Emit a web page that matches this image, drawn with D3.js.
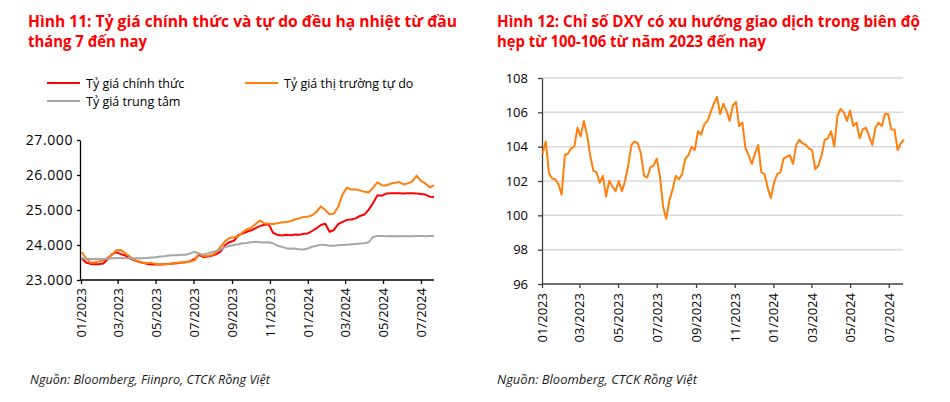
<!DOCTYPE html>
<html>
<head>
<meta charset="utf-8">
<script src="https://cdn.jsdelivr.net/npm/d3@7"></script>
<style>
  body { margin: 0; background: #fff; }
  svg { display: block; }
</style>
</head>
<body>
<div id="chart"></div>
<script>
// Hình 11: weekly points starting 02/01/2023
const fxStart = new Date(2023, 0, 2);
const officialRate = [23620,23500,23460,23450,23450,23470,23600,23740,23790,23740,
  23700,23620,23570,23530,23490,23460,23440,23450,23440,23450,
  23460,23470,23480,23500,23510,23540,23600,23720,23650,23670,
  23700,23740,23820,24000,24080,24120,24280,24330,24380,24420,
  24480,24540,24580,24590,24350,24290,24270,24290,24280,24300,
  24290,24320,24330,24400,24480,24570,24610,24380,24430,24600,
  24660,24720,24730,24760,24830,24870,25010,25200,25420,25410,
  25470,25480,25480,25480,25470,25480,25480,25470,25460,25440,
  25380,25370];
const freeRate = [23800,23620,23500,23510,23530,23560,23640,23720,23850,23860,
  23760,23680,23580,23540,23500,23480,23490,23460,23450,23450,
  23460,23480,23490,23500,23510,23530,23560,23760,23680,23690,
  23720,23790,23960,24110,24200,24220,24250,24360,24450,24490,
  24600,24700,24620,24610,24600,24620,24640,24660,24680,24730,
  24760,24800,24810,24850,24950,25100,25000,24880,24900,25100,
  25450,25640,25580,25590,25560,25520,25500,25640,25790,25710,
  25700,25750,25780,25800,25730,25760,25820,25980,25830,25760,
  25650,25700];
const centralRate = [23620,23610,23600,23600,23600,23600,23610,23620,23630,23630,
  23620,23620,23620,23620,23620,23630,23640,23650,23670,23680,
  23700,23710,23710,23720,23720,23760,23810,23740,23730,23760,
  23800,23830,23880,23940,23970,24000,24020,24050,24060,24080,
  24090,24080,24070,24080,24050,23980,23950,23910,23890,23900,
  23880,23870,23900,23950,23980,24010,24000,23980,23980,23990,
  24000,24010,24020,24030,24040,24050,24080,24230,24260,24260,
  24250,24260,24250,24250,24260,24250,24250,24260,24260,24250,
  24260,24260];

// Hình 12: DXY every 5 days starting 02/01/2023
const dxyStart = new Date(2023, 0, 2);
const dxy = [103.6,104.3,102.45,102.15,102.1,101.8,101.2,103.5,103.6,103.9,
  104.0,105.1,104.6,105.5,104.7,103.5,102.6,102.5,101.9,102.3,
  101.1,102.0,101.7,101.4,102.0,101.4,102.0,102.9,104.1,104.3,
  104.2,103.6,102.3,102.2,102.8,102.9,103.3,102.3,100.5,99.8,
  100.9,101.5,102.3,102.1,102.4,103.3,103.5,104.0,103.8,104.9,
  104.7,105.3,105.5,106.0,106.5,106.9,105.9,106.5,106.1,105.5,
  106.4,106.6,105.2,105.4,103.9,103.5,103.0,103.6,104.1,102.5,
  102.4,101.6,101.0,101.9,102.4,102.5,103.3,103.4,103.5,103.0,
  104.1,104.4,104.2,104.1,103.9,103.8,102.7,102.9,103.5,104.4,
  104.5,104.9,104.0,105.8,106.2,106.0,105.5,106.1,105.2,105.4,
  104.5,105.0,105.1,104.6,104.1,105.1,105.4,105.2,105.9,105.9,
  105.0,105.0,103.8,104.2,104.4];

const monthTicks = ["01/2023","03/2023","05/2023","07/2023","09/2023","11/2023",
  "01/2024","03/2024","05/2024","07/2024"];
const fxTicks = [23000,24000,25000,26000,27000];
const dxyTicks = [96,98,100,102,104,106,108];

const seriesNames = ["Tỷ giá chính thức","Tỷ giá thị trường tự do","Tỷ giá trung tâm"];
const seriesColors = ["#ff0000","#ff7f0e","#a6a6a6"];

const parseMonth = d3.timeParse("%m/%Y");
const fmtMonth = d3.timeFormat("%m/%Y");
const tickDates = monthTicks.map(parseMonth);

const svg = d3.select("#chart").append("svg")
    .attr("width", 950)
    .attr("height", 402)
    .style("font-family", "'Open Sans', sans-serif");

// titles
const titleStyle = s => s.attr("fill", "#ff0000").attr("font-weight", "bold")
    .attr("font-size", "15.5px").attr("lengthAdjust", "spacingAndGlyphs");
svg.append("text").attr("x", 28).attr("y", 27).call(titleStyle).attr("textLength", 429)
    .text("Hình 11: Tỷ giá chính thức và tự do đều hạ nhiệt từ đầu");
svg.append("text").attr("x", 28).attr("y", 47).call(titleStyle).attr("textLength", 119)
    .text("tháng 7 đến nay");
svg.append("text").attr("x", 497).attr("y", 27).call(titleStyle).attr("textLength", 423)
    .text("Hình 12: Chỉ số DXY có xu hướng giao dịch trong biên độ");
svg.append("text").attr("x", 497).attr("y", 47).call(titleStyle).attr("textLength", 269)
    .text("hẹp từ 100-106 từ năm 2023 đến nay");

// ---------- left chart ----------
const fxDates = officialRate.map((d, i) => d3.timeDay.offset(fxStart, 7 * i));
const x1 = d3.scaleTime()
    .domain([new Date(2023, 0, 1), fxDates[fxDates.length - 1]])
    .range([81, 434]);
const y1 = d3.scaleLinear().domain([23000, 27000]).range([280, 140]);

const left = svg.append("g");
const fmtVN = d => d3.format(",")(d).replace(/,/g, ".");

left.append("g")
    .attr("transform", "translate(80,0)")
    .call(d3.axisLeft(y1).tickValues(fxTicks).tickFormat(fmtVN).tickSize(3).tickPadding(4).tickSizeOuter(0))
    .call(g => g.selectAll("text").attr("font-size", "14px").attr("fill", "#000").style("letter-spacing", "0.6px"))
    .call(g => g.selectAll("line, path").attr("stroke", "#000").attr("stroke-width", 1.3))
    .attr("font-family", null);

left.append("g")
    .attr("transform", "translate(0,280)")
    .call(d3.axisBottom(x1).tickValues(tickDates).tickFormat(fmtMonth).tickSize(4).tickSizeOuter(0))
    .call(g => g.select(".domain").attr("d", `M80,0H434`))
    .call(g => g.selectAll("line, path").attr("stroke", "#000").attr("stroke-width", 1.3))
    .call(g => g.selectAll("text")
        .attr("font-size", "13px").attr("fill", "#000")
        .attr("transform", "rotate(-90)")
        .attr("text-anchor", "end")
        .attr("x", -8).attr("y", 0).attr("dy", "0.35em"))
    .attr("font-family", null);

const fxSeries = [officialRate, freeRate, centralRate];
const line1 = d3.line()
    .x((d, i) => x1(fxDates[i]))
    .y(d => y1(d));
left.selectAll(".fx")
    .data(fxSeries)
    .enter().append("path")
    .attr("class", "fx")
    .attr("d", line1)
    .attr("fill", "none")
    .attr("stroke", (d, i) => seriesColors[i])
    .attr("stroke-width", 2)
    .attr("stroke-linejoin", "round");

// legend
const legendPos = [[47, 83], [245, 83], [47, 101]];
const legend = left.selectAll(".leg")
    .data(seriesNames)
    .enter().append("g")
    .attr("transform", (d, i) => `translate(${legendPos[i][0]},${legendPos[i][1]})`);
legend.append("line")
    .attr("x1", 0).attr("x2", 33)
    .attr("stroke", (d, i) => seriesColors[i])
    .attr("stroke-width", 2);
legend.append("text")
    .attr("x", 39).attr("y", 4.5)
    .attr("font-size", "12.5px")
    .text(d => d);

// ---------- right chart ----------
const dxyDates = dxy.map((d, i) => d3.timeDay.offset(dxyStart, 5 * i));
const x2 = d3.scaleTime()
    .domain([new Date(2023, 0, 1), dxyDates[dxyDates.length - 1]])
    .range([542, 904]);
const y2 = d3.scaleLinear().domain([96, 108]).range([284, 78]);

const right = svg.append("g");
right.selectAll(".grid")
    .data(dxyTicks.slice(1))
    .enter().append("line")
    .attr("x1", 542).attr("x2", 903)
    .attr("y1", d => y2(d)).attr("y2", d => y2(d))
    .attr("stroke", "#d9d9d9")
    .attr("stroke-width", 1.5);

right.append("g")
    .attr("transform", "translate(542,0)")
    .call(d3.axisLeft(y2).tickValues(dxyTicks).tickSize(4).tickPadding(10).tickSizeOuter(0))
    .call(g => g.selectAll("text").attr("font-size", "13px").attr("fill", "#000"))
    .call(g => g.selectAll("line, path").attr("stroke", "#404040").attr("stroke-width", 1.3))
    .attr("font-family", null);

right.append("g")
    .attr("transform", "translate(0,284)")
    .call(d3.axisBottom(x2).tickValues(tickDates).tickFormat(fmtMonth).tickSize(4).tickSizeOuter(0))
    .call(g => g.select(".domain").attr("d", `M542,0H903`))
    .call(g => g.selectAll("line, path").attr("stroke", "#404040").attr("stroke-width", 1.3))
    .call(g => g.selectAll("text")
        .attr("font-size", "13px").attr("fill", "#000")
        .attr("transform", "rotate(-90)")
        .attr("text-anchor", "end")
        .attr("x", -9).attr("y", 0).attr("dy", "0.35em"))
    .attr("font-family", null);

const line2 = d3.line()
    .x((d, i) => x2(dxyDates[i]))
    .y(d => y2(d));
right.append("path")
    .datum(dxy)
    .attr("d", line2)
    .attr("fill", "none")
    .attr("stroke", "#ff7f0e")
    .attr("stroke-width", 2)
    .attr("stroke-linejoin", "round");

// sources
const srcStyle = s => s.attr("font-style", "italic").attr("font-size", "12px")
    .attr("fill", "#1a1a1a").attr("lengthAdjust", "spacingAndGlyphs");
svg.append("text").attr("x", 30).attr("y", 384).call(srcStyle).attr("textLength", 240)
    .text("Nguồn: Bloomberg, Fiinpro, CTCK Rồng Việt");
svg.append("text").attr("x", 497).attr("y", 384).call(srcStyle).attr("textLength", 200)
    .text("Nguồn: Bloomberg,  CTCK Rồng Việt");
</script>
</body>
</html>
